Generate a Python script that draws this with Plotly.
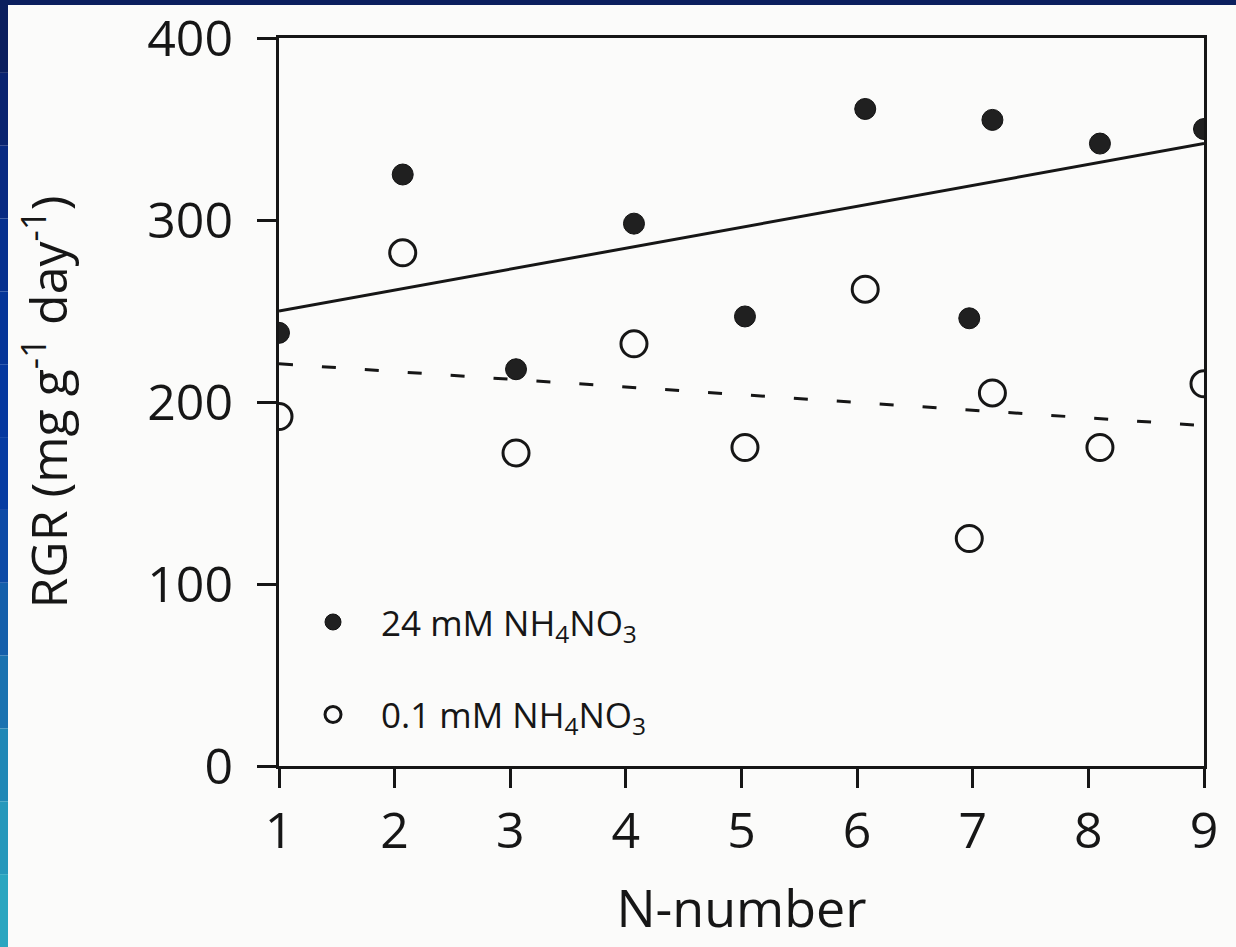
import plotly.graph_objects as go

# ---- data ----
x_hi = [1.0, 2.07, 3.05, 4.07, 5.03, 6.07, 6.97, 7.17, 8.1, 9.0]
rgr_hi = [238, 325, 218, 298, 247, 361, 246, 355, 342, 350]
x_lo = [1.0, 2.07, 3.05, 4.07, 5.03, 6.07, 6.97, 7.17, 8.1, 9.0]
rgr_lo = [192, 282, 172, 232, 175, 262, 125, 205, 175, 210]
fit_x = [1, 9]
fit_hi = [250, 342]
fit_lo = [221, 187]
x_ticks = [1, 2, 3, 4, 5, 6, 7, 8, 9]
y_ticks = [0, 100, 200, 300, 400]

W, H = 1236, 947
L, R, T, B = 279, 32, 38, 181
PW, PH = W - L - R, H - T - B
FONT = "Open Sans"
INK = "#161616"

fig = go.Figure()
fig.add_trace(go.Scatter(x=fit_x, y=fit_hi, mode="lines", showlegend=False,
                         line=dict(color=INK, width=3), hoverinfo="skip"))
fig.add_trace(go.Scatter(x=fit_x, y=fit_lo, mode="lines", showlegend=False,
                         line=dict(color=INK, width=3, dash="14px,29px"), hoverinfo="skip"))
fig.add_trace(go.Scatter(x=x_hi, y=rgr_hi, mode="markers", name="24 mM NH<sub>4</sub>NO<sub>3</sub>",
                         legendgroup="a",
                         marker=dict(symbol="circle", size=21, color="#202020",
                                     line=dict(color="#111111", width=1))))
fig.add_trace(go.Scatter(x=x_lo, y=rgr_lo, mode="markers", name="0.1 mM NH<sub>4</sub>NO<sub>3</sub>",
                         legendgroup="b",
                         marker=dict(symbol="circle-open", size=26, color=INK,
                                     line=dict(color=INK, width=3))))

# slide border (left gradient strip + top strip)
def px2paper_x(px):
    return (px - L) / PW

def px2paper_y(py):
    return (H - B - py) / PH

shapes = []
grad = ["#0b1f5e", "#0a2470", "#082a82", "#06308f", "#053598", "#05389f", "#073ca2",
        "#0c4aa6", "#145fab", "#1a72b0", "#2088b6", "#2698bb", "#2aa6c0"]
n = len(grad)
for i, c in enumerate(grad):
    y0 = H * i / n
    y1 = H * (i + 1) / n
    shapes.append(dict(type="rect", xref="paper", yref="paper", layer="above",
                       x0=px2paper_x(0), x1=px2paper_x(8),
                       y0=px2paper_y(y1), y1=px2paper_y(y0),
                       fillcolor=c, line=dict(width=0)))
shapes.append(dict(type="rect", xref="paper", yref="paper", layer="above",
                   x0=px2paper_x(0), x1=px2paper_x(W),
                   y0=px2paper_y(5), y1=px2paper_y(0),
                   fillcolor="#0b1f5e", line=dict(width=0)))

axis_common = dict(showgrid=False, zeroline=False, showline=True, linecolor=INK,
                   linewidth=3, mirror=True, ticks="outside", ticklen=19,
                   tickwidth=3, tickcolor=INK,
                   tickfont=dict(family=FONT, size=50, color=INK))

fig.update_layout(
    width=W, height=H,
    margin=dict(l=L, r=R, t=T, b=B, autoexpand=False),
    paper_bgcolor="#fbfbfa", plot_bgcolor="#fbfbfa",
    font=dict(family=FONT, color=INK),
    shapes=shapes,
    showlegend=True,
    legend=dict(x=0.0065, y=0.238, xanchor="left", yanchor="top",
                bgcolor="rgba(0,0,0,0)", borderwidth=0,
                font=dict(family=FONT, size=35, color=INK),
                traceorder="grouped", tracegroupgap=44, itemwidth=86),
    xaxis=dict(range=[1, 9], tickvals=x_ticks, ticklabelstandoff=0,
               title=dict(text="N-number", standoff=29,
                          font=dict(family=FONT, size=52, color=INK)),
               **axis_common),
    yaxis=dict(range=[0, 400], tickvals=y_ticks, ticklabelstandoff=14,
               title=dict(text="RGR (mg g<sup>-1</sup> day<sup>-1</sup>)", standoff=64,
                          font=dict(family=FONT, size=50, color=INK)),
               **axis_common),
)

fig.write_html("out.html", config={"displayModeBar": False},
               post_script="document.body.style.margin='0';")
